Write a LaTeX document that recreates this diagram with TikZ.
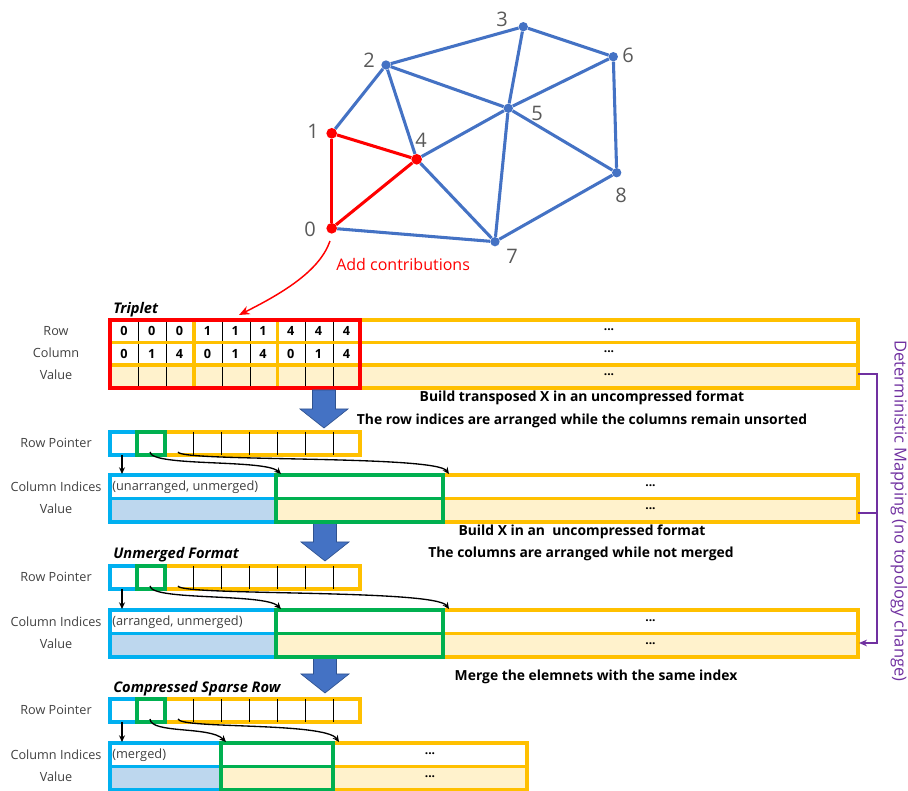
\documentclass[tikz,border=0pt]{standalone}
\usepackage{fontspec}
\setmainfont{Open Sans}
\usetikzlibrary{arrows.meta}
\definecolor{cRed}{HTML}{FF0000}
\definecolor{cYel}{HTML}{FFC000}
\definecolor{cBlu}{HTML}{00B0F0}
\definecolor{cGrn}{HTML}{00B050}
\definecolor{lBlu}{HTML}{BDD7EE}
\definecolor{lYel}{HTML}{FFF2CC}
\definecolor{gBlue}{HTML}{4472C4}
\definecolor{gBlueD}{HTML}{2F528F}
\definecolor{cPur}{HTML}{7030A0}
\definecolor{cGray}{HTML}{595959}
\definecolor{cLab}{HTML}{404040}
\tikzset{
  yelbox/.style={draw=cYel, line width=2.3pt},
  blubox/.style={draw=cBlu, line width=2.3pt},
  grnbox/.style={draw=cGrn, line width=2.3pt},
  redbox/.style={draw=cRed, line width=2.6pt},
  thinln/.style={draw=black, line width=0.6pt},
  gedge/.style={draw=gBlue, line width=2.3pt},
  redge/.style={draw=cRed, line width=2.3pt},
  gdot/.style={circle, fill=gBlue, inner sep=0pt, minimum size=7pt},
  rdot/.style={circle, fill=cRed, inner sep=0pt, minimum size=8pt},
  glab/.style={text=cGray, font=\fontsize{15}{18}\selectfont, inner sep=0pt},
  lab/.style={text=cLab, font=\fontsize{9.5}{11}\selectfont, inner sep=0pt},
  cell/.style={font=\bfseries\fontsize{9.5}{10}\selectfont, inner sep=0pt},
  dots/.style={font=\bfseries\fontsize{9}{10}\selectfont, inner sep=0pt},
  title/.style={font=\bfseries\itshape\fontsize{11}{13}\selectfont, inner sep=0pt, anchor=west},
  note/.style={font=\bfseries\fontsize{10.4}{12}\selectfont, inner sep=0pt},
  inlab/.style={text=cLab, font=\fontsize{9.6}{11}\selectfont, inner sep=0pt, anchor=west},
  smallarr/.style={draw=black, line width=1pt, -{Stealth[length=5pt,width=4.5pt]}},
  bigarr/.pic={\draw[fill=gBlue, draw=gBlueD, line width=0.5pt]
     (-11.5,0) -- (11.5,0) -- (11.5,19) -- (24,19) -- (0,38) -- (-24,19) -- (-11.5,19) -- cycle;}
}
\newcommand\MySec[7]{%
  \pgfmathsetmacro\SecRa{#1}\pgfmathsetmacro\SecRb{#1+23}%
  \pgfmathsetmacro\SecCa{#2}\pgfmathsetmacro\SecCm{#2+23.5}\pgfmathsetmacro\SecCb{#2+47}%
  \draw[yelbox] (165,\SecRa) rectangle (360,\SecRb);
  \foreach \xx in {193,221,249,277,305,333} \draw[thinln] (\xx,\SecRa) -- (\xx,\SecRb);
  \draw[blubox] (110,\SecRa) rectangle (137,\SecRb);
  \draw[grnbox] (137,\SecRa) rectangle (165,\SecRb);
  \fill[lBlu] (110,\SecCm) rectangle (#3,\SecCb);
  \fill[lYel] (#3,\SecCm) rectangle (#5,\SecCb);
  \draw[yelbox] (#4,\SecCa) rectangle (#5,\SecCb) (#4,\SecCm) -- (#5,\SecCm);
  \draw[blubox] (110,\SecCa) rectangle (#3,\SecCb) (110,\SecCm) -- (#3,\SecCm);
  \draw[grnbox] (#3,\SecCa) rectangle (#4,\SecCb) (#3,\SecCm) -- (#4,\SecCm);
  \node[inlab] (#6txt) at (112,{\SecCa+12}) {#7};
  \node[dots] (#6d1) at ({(#4+#5)/2},{\SecCa+11}) {...};
  \node[dots] (#6d2) at ({(#4+#5)/2},{\SecCa+34}) {...};
  \node[lab] (#6l1) at (56,{\SecRa+11}) {Row Pointer};
  \node[lab] (#6l2) at (56,{\SecCa+12}) {Column Indices};
  \node[lab] (#6l3) at (56,{\SecCa+34}) {Value};
  \coordinate (#6s0) at (122,\SecRb);
  \coordinate (#6e0) at (122,{\SecCa-1});
  \coordinate (#6s1) at (150,{\SecRb-3});
  \coordinate (#6e1) at ({#3+5},{\SecCa-1});
  \coordinate (#6s2) at (178,{\SecRb-3});
  \coordinate (#6e2) at ({#4+6},{\SecCa-1});
  \draw[smallarr] (#6s0) -- (#6e0);
  \draw[smallarr] (#6s1) .. controls (151,{\SecRb+12}) and ({#3-11},{\SecRb+4}) .. (#6e1);
  \draw[smallarr] (#6s2) .. controls (180,{\SecRb+7}) and ({#4-8},{\SecRb}) .. (#6e2);
}
\begin{document}
\begin{tikzpicture}[x=0.75pt,y=-0.75pt]
\useasboundingbox (0,0) rectangle (908,791);
% ---------- graph ----------
\foreach \n/\x/\y in {2/386/65, 3/523.3/26.7, 5/508.3/108.3, 6/613.3/56.7, 7/495/241.7, 8/616.7/172.7}
  \node[gdot] (v\n) at (\x,\y) {};
\foreach \n/\x/\y in {0/331.7/228.3, 1/331.7/133.3, 4/416.7/159.3}
  \node[rdot] (v\n) at (\x,\y) {};
\foreach \a/\b in {1/2, 2/4, 2/3, 2/5, 3/5, 3/6, 5/6, 4/5, 4/7, 5/7, 5/8, 6/8, 7/8, 0/7}
  \draw[gedge] (v\a) -- (v\b);
\foreach \a/\b in {0/1, 1/4, 0/4}
  \draw[redge] (v\a) -- (v\b);
\foreach \n/\x/\y in {0/310/229, 1/313/131, 2/369/60, 3/502/19, 4/421/140, 5/537/113, 6/628/55, 7/512/256, 8/621/195}
  \node[glab] (l\n) at (\x,\y) {\n};
\node[text=cRed, font=\fontsize{12}{14}\selectfont, inner sep=0pt, anchor=west] (addc) at (336,265) {Add contributions};
\coordinate (ra) at (330,241);
\coordinate (rb) at (239,315);
\draw[draw=cRed, line width=1.1pt, -{Stealth[length=8pt,width=6.5pt]}] (ra) .. controls (320,270) and (285,292) .. (rb);
% ---------- triplet ----------
\node[title] (ttrip) at (113,310) {Triplet};
\fill[lYel] (110,365) rectangle (858,388);
\foreach \xx in {138,166,222,250,305,333} \draw[thinln] (\xx,320) -- (\xx,388);
\draw[yelbox] (110,320) rectangle (858,388) (110,342.5) -- (858,342.5) (110,365) -- (858,365);
\draw[yelbox] (194,320) -- (194,388) (277.5,320) -- (277.5,388);
\draw[redbox] (110,320) rectangle (360,388);
\foreach \v [count=\i from 0] in {0,0,0,1,1,1,4,4,4}
  \node[cell] (r\i) at ({124+27.8*\i},331) {\v};
\foreach \v [count=\i from 0] in {0,1,4,0,1,4,0,1,4}
  \node[cell] (c\i) at ({124+27.8*\i},353.5) {\v};
\node[lab] (trow) at (56,331) {Row};
\node[lab] (tcol) at (56,353) {Column};
\node[lab] (tval) at (56,375) {Value};
\node[dots] (td1) at (609,330) {...};
\node[dots] (td2) at (609,352) {...};
\node[dots] (td3) at (609,375) {...};
% ---------- arrows and notes ----------
\pic at (324,390) {bigarr};
\pic at (325,523) {bigarr};
\pic at (325,655) {bigarr};
\node[note] (n1) at (582,398) {Build transposed X in an uncompressed format};
\node[note] (n2) at (582,421) {The row indices are arranged while the columns remain unsorted};
\node[note] (n3) at (582,532) {Build X in an \ uncompressed format};
\node[note] (n4) at (581,554) {The columns are arranged while not merged};
\node[note] (n5) at (596,677) {Merge the elemnets with the same index};
% ---------- sections ----------
\MySec{432}{475}{276}{443}{858}{a}{(unarranged, unmerged)}
\node[title] (tunm) at (113,555) {Unmerged Format};
\MySec{566}{610}{276}{443}{858}{b}{(arranged, unmerged)}
\node[title] (tcsr) at (113,689) {Compressed Sparse Row};
\MySec{699}{743}{221}{333}{527}{c}{(merged)}
% ---------- purple bracket ----------
\coordinate (p1) at (858,374);
\coordinate (p2) at (858,513);
\coordinate (p3) at (859,643);
\draw[draw=cPur, line width=1.1pt, -{Stealth[length=6pt,width=5pt]}] (p1) -- (877,374) -- (877,643) -- (p3);
\draw[draw=cPur, line width=1.1pt] (p2) -- (877,513);
\node[text=cPur, rotate=-90, font=\fontsize{12.4}{14}\selectfont, inner sep=0pt] (dm) at (899,511) {Deterministic Mapping (no topology change)};
\end{tikzpicture}
\end{document}
